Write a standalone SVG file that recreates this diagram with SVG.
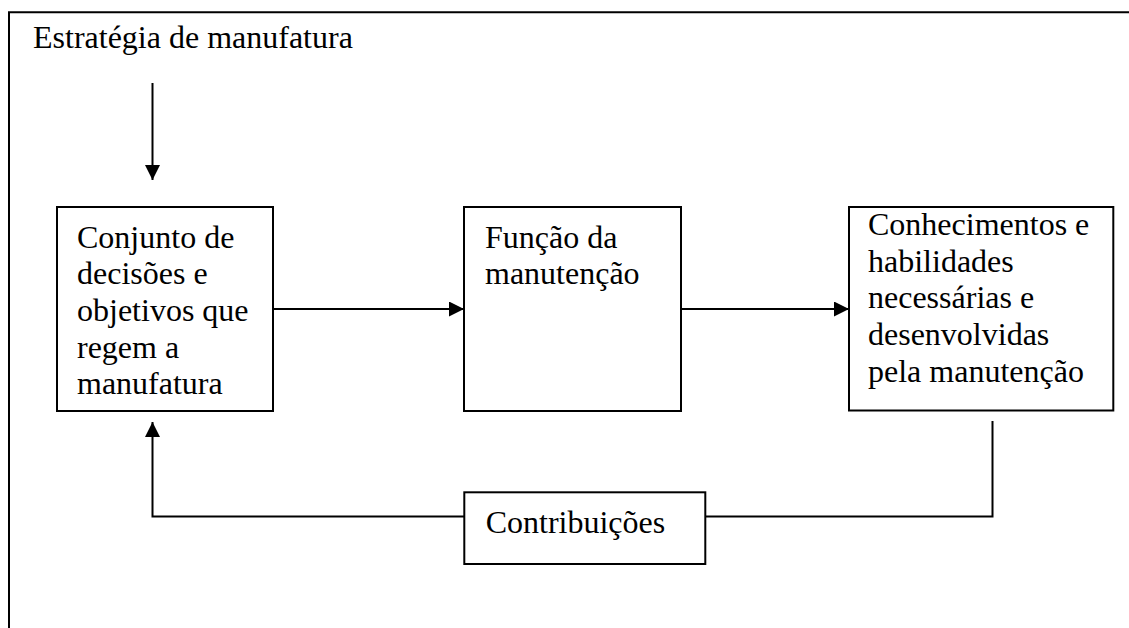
<svg xmlns="http://www.w3.org/2000/svg" width="1129" height="628" viewBox="0 0 1129 628">
<style>
.t{font-family:"Liberation Serif","Times New Roman",serif;font-size:32px;fill:#000}
.b{fill:#fff;stroke:#000;stroke-width:2}
.c{fill:none;stroke:#000;stroke-width:2}
</style>
<defs>
<marker id="ah" viewBox="0 0 15 15" refX="15" refY="7.5" markerWidth="15" markerHeight="15" markerUnits="userSpaceOnUse" orient="auto">
<path d="M0,0 L15,7.5 L0,15 Z" fill="#000"/>
</marker>
</defs>
<rect width="1129" height="628" fill="#fff"/>
<g id="frame">
<path class="c" d="M9,628 V12.3 H1129"/>
<text class="t" x="33" y="48">Estratégia de manufatura</text>
</g>
<g id="connectors">
<line class="c" x1="152.5" y1="83" x2="152.5" y2="180" marker-end="url(#ah)"/>
<line class="c" x1="273" y1="309" x2="464" y2="309" marker-end="url(#ah)"/>
<line class="c" x1="681" y1="309" x2="849" y2="309" marker-end="url(#ah)"/>
<path class="c" d="M992.5,421 V516.5 H705"/>
<path class="c" d="M464,516.5 H152.5 V422" marker-end="url(#ah)"/>
</g>
<g id="node-decisoes">
<rect class="b" x="57" y="207" width="216" height="204"/>
<text class="t" x="77" y="247.5">Conjunto de</text>
<text class="t" x="77" y="284.2">decisões e</text>
<text class="t" x="77" y="320.9">objetivos que</text>
<text class="t" x="77" y="357.6">regem a</text>
<text class="t" x="77" y="394.3">manufatura</text>
</g>
<g id="node-funcao">
<rect class="b" x="464" y="207" width="217" height="204"/>
<text class="t" x="485" y="247.5">Função da</text>
<text class="t" x="485" y="284.2">manutenção</text>
</g>
<g id="node-conhecimentos">
<rect class="b" x="849" y="207" width="264.3" height="203.5"/>
<text class="t" x="868" y="235">Conhecimentos e</text>
<text class="t" x="868" y="271.7">habilidades</text>
<text class="t" x="868" y="308.4">necessárias e</text>
<text class="t" x="868" y="345.1">desenvolvidas</text>
<text class="t" x="868" y="381.8">pela manutenção</text>
</g>
<g id="node-contribuicoes">
<rect class="b" x="464.3" y="492.3" width="241" height="71.7"/>
<text class="t" x="485.7" y="533.3">Contribuições</text>
</g>
</svg>
